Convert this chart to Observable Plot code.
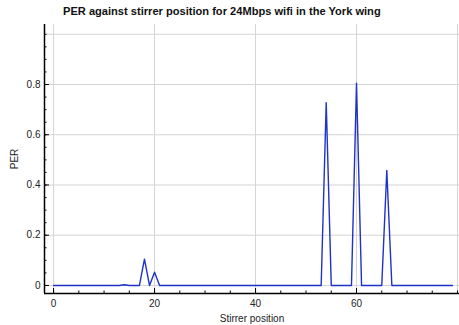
<!DOCTYPE html>
<html><head><meta charset="utf-8">
<script src="https://cdn.jsdelivr.net/npm/d3@7"></script>
<script src="https://cdn.jsdelivr.net/npm/@observablehq/plot@0.6"></script>
<style>
body{margin:0;background:#fff;font-family:"Liberation Sans",Arial,sans-serif;}
#title{height:20px;line-height:22px;font-weight:bold;font-size:11.1px;color:#111;text-align:left;padding-left:63px;white-space:nowrap;}
</style></head>
<body>
<div id="title">PER against stirrer position for 24Mbps wifi in the York wing</div>
<div id="chart"></div>
<script>
const position = [
  0,1,2,3,4,5,6,7,8,9,10,11,12,13,14,15,16,17,18,19,
  20,21,22,23,24,25,26,27,28,29,30,31,32,33,34,35,36,37,38,39,
  40,41,42,43,44,45,46,47,48,49,50,51,52,53,54,55,56,57,58,59,
  60,61,62,63,64,65,66,67,68,69,70,71,72,73,74,75,76,77,78,79];
const per = [
  0,0,0,0,0,0,0,0,0,0,0,0,0,0,0.003,0,0,0,0.105,0,
  0.053,0,0,0,0,0,0,0,0,0,0,0,0,0,0,0,0,0,0,0,
  0,0,0,0,0,0,0,0,0,0,0,0,0,0,0.728,0,0,0,0,0,
  0.805,0,0,0,0,0,0.458,0,0,0,0,0,0,0,0,0,0,0,0,0];
const xTickLabels = [0,20,40,60];
const xGrid = [0,20,40,60,80];
const xMinor = [0,5,10,15,20,25,30,35,40,45,50,55,60,65,70,75,80];
const yTickLabels = [0,0.2,0.4,0.6,0.8];
const yGrid = [0,0.2,0.4,0.6,0.8,1.0];
const yMinor = [0,0.05,0.1,0.15,0.2,0.25,0.3,0.35,0.4,0.45,0.5,0.55,0.6,0.65,0.7,0.75,0.8,0.85,0.9,0.95,1.0];
const xDomain = [-1.8, 80.4];
const yDomain = [-0.032, 1.039];

const data = position.map((p,i)=>({x:p, y:per[i]}));
const fmt = d3.format("~g");

const chart = Plot.plot({
  width: 459,
  height: 305,
  marginLeft: 44,
  marginRight: 0,
  marginTop: 4,
  marginBottom: 32,
  style: {fontFamily: '"Liberation Sans", Arial, sans-serif', fontSize: "10px", color: "#222", background: "#fff"},
  x: {domain: xDomain},
  y: {domain: yDomain},
  marks: [
    Plot.gridX(xGrid, {stroke: "#d4d4d4", strokeOpacity: 1, strokeWidth: 1}),
    Plot.gridY(yGrid, {stroke: "#d4d4d4", strokeOpacity: 1, strokeWidth: 1}),
    Plot.line(data, {x: "x", y: "y", stroke: "#1f33c6", strokeWidth: 1.4}),
    Plot.axisX(xMinor, {tickSize: -2.5, text: null, label: null, stroke: "#000"}),
    Plot.axisX(xTickLabels, {tickSize: -5, tickPadding: 11, tickFormat: fmt, stroke: "#000", fill: "#222", label: "Stirrer position", labelAnchor: "center", labelArrow: "none", labelOffset: 28}),
    Plot.axisY(yMinor, {tickSize: -2.5, text: null, label: null, stroke: "#000"}),
    Plot.axisY(yTickLabels, {tickSize: -5, tickPadding: 9, tickFormat: fmt, stroke: "#000", fill: "#222", label: "PER", labelAnchor: "center", labelArrow: "none", labelOffset: 34}),
    Plot.ruleX([xDomain[0]], {stroke: "#000", strokeWidth: 1.5}),
    Plot.ruleY([yDomain[0]], {stroke: "#000", strokeWidth: 1.5})
  ]
});
document.getElementById("chart").appendChild(chart);
</script>
</body></html>
